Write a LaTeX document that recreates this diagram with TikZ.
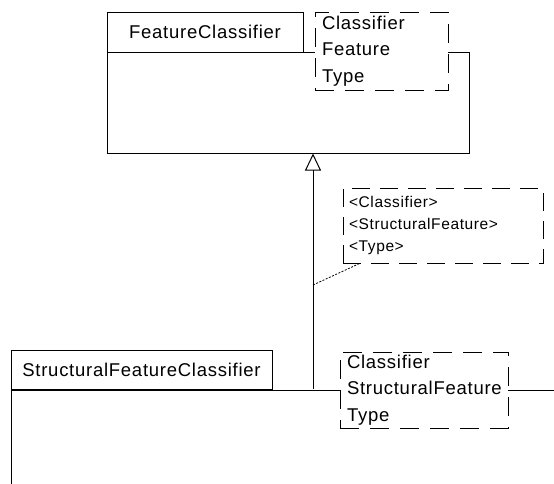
\documentclass[tikz,border=0pt]{standalone}
\usepackage{fontspec}
\setmainfont{Liberation Sans}[LetterSpace=4]
\usetikzlibrary{arrows.meta}

\begin{document}
\begin{tikzpicture}[x=1pt,y=-1pt,line width=1pt,
    box/.style={draw,rectangle,inner sep=0pt},
    clsname/.style={box,font=\fontsize{18.5}{22}\selectfont},
    params/.style={box,fill=white,dash pattern=on 19pt off 11pt,inner xsep=7pt,
      align=left,font=\fontsize{18.5}{26.5}\selectfont},
    note/.style={box,dash pattern=on 18pt off 10pt,inner xsep=6pt,
      align=left,font=\fontsize{15.5}{22}\selectfont}]
  \useasboundingbox (0,0) rectangle (554,483);
  \clip (0,0) rectangle (554,483);
  \node[box,minimum width=362pt,minimum height=101pt] (fcBody) at (288,102.5) {};
  \node[clsname,minimum width=196pt,minimum height=40pt] (fcName) at (205,32) {FeatureClassifier};
  \node[params,minimum width=133pt,minimum height=78pt,text width=119pt] (fcParams) at (381.5,51)
    {Classifier\\Feature\\Type};
  \node[clsname,minimum width=261pt,minimum height=39pt] (sfcName) at (141.5,369.5) {StructuralFeatureClassifier};
  \node[box,minimum width=600pt,minimum height=200pt,anchor=north west] (sfcBody) at (sfcName.south west) {};
  \node[params,minimum width=168pt,minimum height=76pt,text width=154pt] (sfcParams) at (424,390)
    {Classifier\\StructuralFeature\\Type};
  \node[note,minimum width=200pt,minimum height=75pt,text width=188pt] (binding) at (443,225.5)
    {<Classifier>\\<StructuralFeature>\\<Type>};
  \coordinate (gen) at (313,389);
  \coordinate (link) at (313,285);
  \draw[-{Triangle[open,length=17pt,width=16pt]}] (gen) -- (gen |- fcBody.south);
  \draw[line width=0.8pt,dash pattern=on 2pt off 1.5pt] (link) -- ([xshift=17pt]binding.south west);
\end{tikzpicture}
\end{document}
